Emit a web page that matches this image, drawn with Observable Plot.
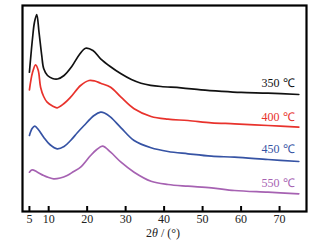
<!DOCTYPE html>
<html>
<head>
<meta charset="utf-8">
<script src="https://cdn.jsdelivr.net/npm/d3@7"></script>
<script src="https://cdn.jsdelivr.net/npm/@observablehq/plot@0.6"></script>
<style>
  html, body { margin: 0; padding: 0; background: #ffffff; }
  svg { display: block; }
</style>
</head>
<body>
<div id="chart"></div>
<script>
// 2θ positions (°) and relative intensities (a.u.)
const x350 = [5, 5.8, 6.3, 6.9, 7.5, 8.2, 8.7, 9.7, 11, 12.3, 14, 16, 18, 19.6, 21.5, 23.5, 26, 28.8, 31.5, 34, 36.5, 39.2, 44.4, 49.6, 55, 60, 67, 75];
const y350 = [139.3, 173, 189, 197, 179, 156, 143, 136, 133, 132.5, 136, 145, 157, 163.3, 161, 152.7, 145, 137.7, 132, 128.3, 126.2, 125, 123.7, 121.7, 120.2, 119.1, 118.3, 117];

const x400 = [5, 5.8, 6.6, 7.3, 7.9, 8.7, 9.6, 11, 12.2, 14, 15.7, 18.3, 20.5, 22, 23.5, 26.1, 28.8, 32.2, 36.6, 41, 46.2, 52.3, 58.3, 67, 75];
const y400 = [121.7, 139, 146.7, 141, 124.3, 115, 109.3, 105.5, 103.7, 108, 114.3, 126, 131, 130.5, 128.3, 124.3, 114.3, 102.7, 95, 92.3, 91, 88.7, 87.7, 86, 84.3];

const x450 = [5, 5.7, 6.4, 7.3, 8.7, 10.3, 12.2, 14, 15.7, 17.5, 19.2, 21.8, 23.5, 24.5, 26.1, 28.8, 32.2, 36.6, 41, 46.2, 52.3, 58.3, 67, 75];
const y450 = [76, 83, 85.3, 82, 74.3, 67, 62.7, 65, 71, 79, 86, 96, 99.3, 98.5, 94.3, 83.7, 71, 63.7, 60, 57.7, 55.3, 54.3, 52, 50];

const x550 = [5, 5.7, 7, 8.7, 10, 11.3, 13, 14.8, 16.5, 18.3, 20.9, 22.5, 24, 26.1, 28.8, 32.2, 36.6, 41, 46.2, 52.3, 58.3, 67, 75];
const y550 = [39.3, 41.7, 39.5, 36, 34, 32.7, 33.5, 36, 40, 44.3, 56, 62, 65.3, 59.3, 49.3, 39.3, 30.3, 27, 25.3, 23.7, 21, 19.3, 17.7];

const seriesNames = ["350 ℃", "400 ℃", "450 ℃", "550 ℃"];
const seriesColors = ["#111111", "#e8322c", "#3653a4", "#a662b2"];
const labelX = [73.9, 73.9, 73.9, 73.9];
const labelY = [128, 94.3, 62, 28.3];
const xTicks = [5, 10, 20, 30, 40, 50, 60, 70];

const xs = [x350, x400, x450, x550];
const ys = [y350, y400, y450, y550];
const data = [];
seriesNames.forEach((name, i) => {
  xs[i].forEach((x, j) => data.push({series: name, x, y: ys[i][j]}));
});
const labels = seriesNames.map((name, i) => ({series: name, x: labelX[i], y: labelY[i]}));

const serif = "'Liberation Serif', 'Times New Roman', serif";

const chart = Plot.plot({
  width: 323,
  height: 243,
  marginLeft: 22,
  marginRight: 17,
  marginTop: 5,
  marginBottom: 32,
  style: {fontFamily: serif, fontSize: "12px", background: "#ffffff", color: "#222"},
  x: {domain: [3.2, 77], label: null},
  y: {domain: [0, 206], axis: null},
  color: {domain: seriesNames, range: seriesColors},
  marks: [
    Plot.line(data, {x: "x", y: "y", z: "series", stroke: "series", strokeWidth: 1.7, curve: "catmull-rom"}),
    Plot.text(labels, {x: "x", y: "y", text: "series", fill: "series", textAnchor: "end", fontSize: 12, fontFamily: serif}),
    Plot.ruleX(xTicks, {x: d => d, y1: 0, y2: 5, stroke: "black", strokeWidth: 2}),
    Plot.axisX({ticks: xTicks, tickSize: 0, tickPadding: 3, fontSize: 12, fontFamily: serif, fill: "#222"}),
    Plot.frame({stroke: "black", strokeWidth: 2.2})
  ]
});

const svg = d3.select(chart);
const t = svg.append("text")
  .attr("x", 163)
  .attr("y", 237)
  .attr("text-anchor", "middle")
  .attr("font-family", serif)
  .attr("font-size", 12)
  .attr("fill", "#222");
t.append("tspan").text("2");
t.append("tspan").attr("font-style", "italic").text("θ");
t.append("tspan").text(" / (°)");

document.getElementById("chart").appendChild(chart);
</script>
</body>
</html>
